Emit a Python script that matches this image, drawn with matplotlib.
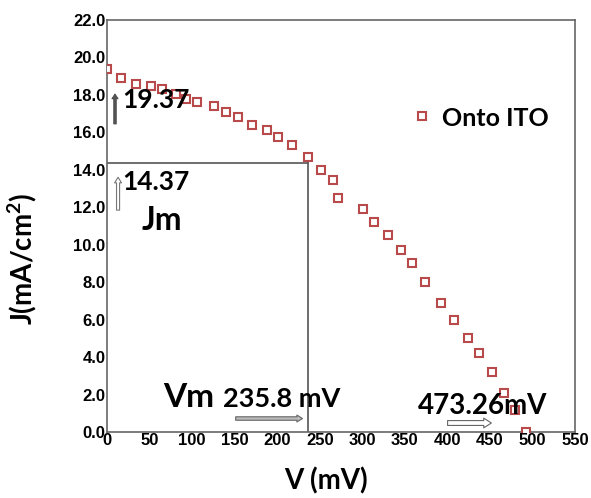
import matplotlib
matplotlib.use("Agg")
import matplotlib.pyplot as plt
from matplotlib import font_manager

# J-V characteristic of the cell deposited onto ITO
voltage_mv = [0, 16.5, 34, 52, 65, 81, 93, 106, 126, 140, 154, 170, 188, 201,
              218, 236, 252, 266, 272, 301, 314, 330, 345, 359, 374, 392, 408,
              424, 437, 452, 466, 480, 493]
current_density = [19.37, 18.9, 18.6, 18.5, 18.3, 18.05, 17.8, 17.6, 17.4, 17.1,
                   16.8, 16.4, 16.1, 15.75, 15.3, 14.7, 14.0, 13.45, 12.5, 11.9,
                   11.2, 10.5, 9.7, 9.0, 8.0, 6.9, 6.0, 5.0, 4.2, 3.2, 2.1, 1.2, 0.0]
series_name = "Onto ITO"

# Characteristic points
jsc = 19.37      # short-circuit current density (mA/cm2)
jm = 14.37       # current density at maximum power
vm = 235.8       # voltage at maximum power (mV)
voc = 473.26     # open-circuit voltage (mV)

x_ticks = list(range(0, 551, 50))
y_ticks = [0, 2, 4, 6, 8, 10, 12, 14, 16, 18, 20, 22]

available = {f.name for f in font_manager.fontManager.ttflist}
tick_family = ["Liberation Sans Narrow", "Liberation Sans"]
tick_family = [f for f in tick_family if f in available] or ["DejaVu Sans"]
label_family = ["Lato", "DejaVu Sans"]

plt.rcParams["mathtext.fontset"] = "custom"
plt.rcParams["mathtext.rm"] = "Lato:bold"
plt.rcParams["mathtext.bf"] = "Lato:bold"

fig = plt.figure(figsize=(5.91, 4.98), dpi=100)
ax = fig.add_axes([107 / 591, 1 - 432 / 498, 468 / 591, 412 / 498])

marker_color = "#b84a4c"
ax.plot(voltage_mv, current_density, linestyle="none", marker="s",
        markersize=5.8, markerfacecolor="white", markeredgecolor=marker_color,
        markeredgewidth=1.5, zorder=3)

# Maximum power rectangle
line_color = "#555555"
ax.plot([0, vm], [jm, jm], color=line_color, lw=1.2, zorder=2)
ax.plot([vm, vm], [0, jm], color=line_color, lw=1.2, zorder=2)

ax.set_xlim(0, 550)
ax.set_ylim(0, 22)
ax.set_xticks(x_ticks)
ax.set_yticks(y_ticks)
ax.set_xticklabels([str(v) for v in x_ticks])
ax.set_yticklabels([f"{v:.1f}" for v in y_ticks])
ax.tick_params(axis="both", length=0, pad=1, labelsize=12, colors="black")
for lab in ax.get_xticklabels() + ax.get_yticklabels():
    lab.set_family(tick_family)
    lab.set_fontweight("bold")
for sp in ax.spines.values():
    sp.set_color("#666666")
    sp.set_linewidth(1.2)

ax.set_xlabel("V (mV)", family=label_family, fontweight="bold", fontsize=20,
              labelpad=2)
ax.set_ylabel(r"J(mA/cm$^{2}$)", family=label_family, fontweight="bold",
              fontsize=20, labelpad=4)
ax.xaxis.set_label_coords(0.468, -0.085)
ax.yaxis.set_label_coords(-0.145, 0.42)

txt = dict(family=label_family, fontweight="bold", color="black",
           va="baseline", ha="left", zorder=5)
ax.text(17.6, 17.3, f"{jsc:.2f}", fontsize=19, **txt)
ax.text(17.6, 12.92, f"{jm:.2f}", fontsize=19, **txt)
ax.text(41, 10.78, "Jm", fontsize=23, **txt)
ax.text(65.8, 1.33, "Vm", fontsize=24, **txt)
ax.text(136, 1.33, f"{vm} mV", fontsize=19.5, **txt)
ax.text(365.5, 0.96, f"{voc}mV", fontsize=20, **txt)

# Legend entry
ax.plot([370], [16.87], linestyle="none", marker="s", markersize=5.8,
        markerfacecolor="white", markeredgecolor=marker_color,
        markeredgewidth=1.5)
ax.text(393.6, 16.34, series_name, fontsize=18, **txt)

# Pointer arrows
ax.annotate("", xy=(9.4, 18.2), xytext=(9.4, 16.3),
            arrowprops=dict(arrowstyle="simple,head_length=0.35,head_width=0.45,tail_width=0.18",
                            fc="#555555", ec="#444444", lw=0.6), zorder=4)
ax.annotate("", xy=(13, 13.75), xytext=(13, 11.7),
            arrowprops=dict(arrowstyle="simple,head_length=0.4,head_width=0.5,tail_width=0.22",
                            fc="white", ec="#777777", lw=0.8), zorder=4)
ax.annotate("", xy=(233, 0.72), xytext=(148, 0.72),
            arrowprops=dict(arrowstyle="simple,head_length=0.4,head_width=0.5,tail_width=0.25",
                            fc="#bbbbbb", ec="#666666", lw=0.8), zorder=4)
ax.annotate("", xy=(455, 0.48), xytext=(397, 0.48),
            arrowprops=dict(arrowstyle="simple,head_length=0.55,head_width=0.7,tail_width=0.35",
                            fc="white", ec="#666666", lw=0.8), zorder=4)

fig.savefig("out.png", dpi=100)
